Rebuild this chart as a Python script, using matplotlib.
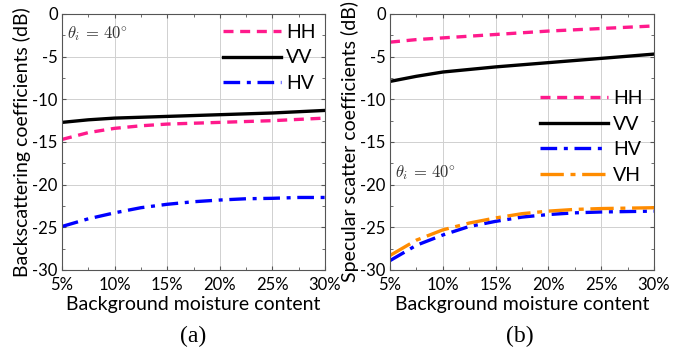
import matplotlib
matplotlib.use('Agg')
import matplotlib.pyplot as plt
from matplotlib.ticker import MultipleLocator, FuncFormatter

plt.rcParams['font.family'] = ['Lato', 'DejaVu Sans']
plt.rcParams['mathtext.fontset'] = 'cm'

# moisture content (%)
moisture = [5, 7.5, 10, 12.5, 15, 17.5, 20, 22.5, 25, 27.5, 30]

# (a) backscattering, dB
back_hh = [-14.7, -13.9, -13.4, -13.1, -12.9, -12.8, -12.7, -12.6, -12.5, -12.35, -12.2]
back_vv = [-12.7, -12.4, -12.2, -12.1, -12.0, -11.9, -11.8, -11.7, -11.6, -11.45, -11.3]
back_hv = [-24.9, -24.0, -23.3, -22.7, -22.3, -22.0, -21.8, -21.65, -21.6, -21.5, -21.5]

# (b) specular scatter, dB
spec_hh = [-3.3, -3.0, -2.8, -2.6, -2.4, -2.2, -2.0, -1.85, -1.7, -1.55, -1.4]
spec_vv = [-7.9, -7.3, -6.8, -6.5, -6.2, -5.95, -5.7, -5.45, -5.2, -4.95, -4.7]
spec_hv = [-28.9, -27.1, -25.9, -24.9, -24.3, -23.8, -23.5, -23.3, -23.2, -23.15, -23.1]
spec_vh = [-28.3, -26.5, -25.3, -24.5, -23.9, -23.4, -23.1, -22.9, -22.8, -22.75, -22.7]

PINK = '#ff1a8c'
BLUE = '#0000ff'
ORANGE = '#ff8c00'


def style_axes(ax, ylabel):
    ax.set_xlim(5, 30)
    ax.set_ylim(-30, 0)
    ax.xaxis.set_major_locator(MultipleLocator(5))
    ax.xaxis.set_minor_locator(MultipleLocator(2.5))
    ax.yaxis.set_major_locator(MultipleLocator(5))
    ax.yaxis.set_minor_locator(MultipleLocator(2.5))
    ax.xaxis.set_major_formatter(FuncFormatter(lambda v, p: f'{v:.0f}%'))
    ax.yaxis.set_major_formatter(FuncFormatter(lambda v, p: f'{v:.0f}'))
    ax.tick_params(which='both', direction='in', top=True, right=True,
                   color='#555555', labelsize=12)
    ax.tick_params(which='major', length=3)
    ax.tick_params(which='minor', length=2)
    ax.tick_params(axis='x', which='major', pad=5)
    ax.tick_params(axis='y', which='major', pad=3)
    ax.grid(True, color='#d0d0d0', linewidth=0.7)
    for s in ax.spines.values():
        s.set_color('#555555')
        s.set_linewidth(0.8)
    ax.set_xlabel('Background moisture content', fontsize=14, labelpad=2)
    ax.set_ylabel(ylabel, fontsize=14, labelpad=1)


fig = plt.figure(figsize=(6.83, 3.49), dpi=100)
ax1 = fig.add_axes([62 / 683, 1 - 270 / 349, 263 / 683, 256 / 349])
ax2 = fig.add_axes([390 / 683, 1 - 270 / 349, 264 / 683, 256 / 349])

ax1.plot(moisture, back_hh, '--', color=PINK, lw=2.4, dashes=(3, 2), label='HH')
ax1.plot(moisture, back_vv, '-', color='black', lw=2.4, label='VV')
ax1.plot(moisture, back_hv, '-.', color=BLUE, lw=2.4, dashes=(5, 2, 1.2, 2), label='HV')
style_axes(ax1, 'Backscattering coefficients (dB)')
ax1.text(0.02, 0.96, r'$\theta_i\, =\, 40^{\circ}$', transform=ax1.transAxes,
         fontsize=12, color='#333333', va='top')
ax1.legend(loc='upper right', frameon=False, fontsize=14, handlelength=3.0,
           handletextpad=0.25, labelspacing=0.45, borderaxespad=0.2,
           borderpad=0.3)

ax2.plot(moisture, spec_hh, '--', color=PINK, lw=2.4, dashes=(3, 2), label='HH')
ax2.plot(moisture, spec_vv, '-', color='black', lw=2.4, label='VV')
ax2.plot(moisture, spec_hv, '-.', color=BLUE, lw=2.4, dashes=(5, 2, 1.2, 2), label='HV')
ax2.plot(moisture, spec_vh, '-.', color=ORANGE, lw=2.4, dashes=(7, 2, 1.5, 2), label='VH')
style_axes(ax2, 'Specular scatter coefficients (dB)')
ax2.text(0.02, 0.38, r'$\theta_i\, =\, 40^{\circ}$', transform=ax2.transAxes,
         fontsize=12, color='#333333', va='center')
ax2.legend(loc='center right', bbox_to_anchor=(1.0, 0.52), frameon=False, fontsize=14,
           handlelength=3.5, handletextpad=0.25, labelspacing=0.45, borderaxespad=0.2)

fig.text(193 / 683, 1 - 336 / 349, '(a)', family='Liberation Serif', fontsize=17,
         ha='center', va='center')
fig.text(520 / 683, 1 - 336 / 349, '(b)', family='Liberation Serif', fontsize=17,
         ha='center', va='center')

fig.savefig('out.png', dpi=100)
